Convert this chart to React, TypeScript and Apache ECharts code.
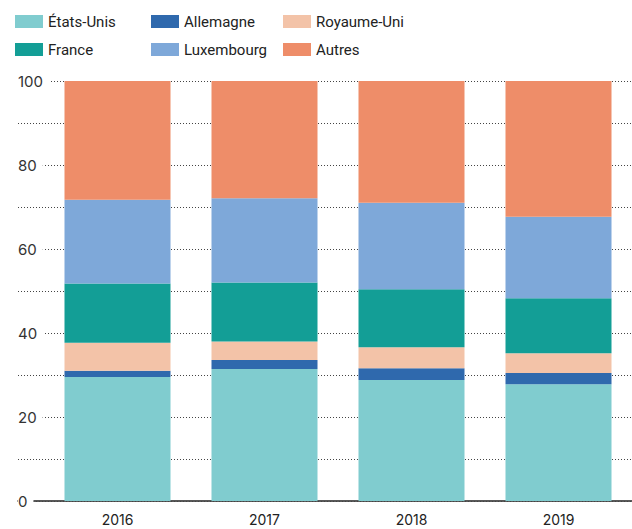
import React, { useEffect, useRef } from "react";
import * as echarts from "echarts";

const years = ["2016", "2017", "2018", "2019"];
const etatsUnis = [29.5, 31.4, 28.8, 27.8];
const allemagne = [1.5, 2.2, 2.8, 2.7];
const royaumeUni = [6.7, 4.4, 5.0, 4.7];
const france = [14.1, 14.0, 13.8, 13.1];
const luxembourg = [19.9, 20.1, 20.6, 19.4];
const autres = [28.3, 27.9, 29.0, 32.3];

const seriesNames = ["États-Unis", "Allemagne", "Royaume-Uni", "France", "Luxembourg", "Autres"];
const seriesData = [etatsUnis, allemagne, royaumeUni, france, luxembourg, autres];
const colors = ["#80cccf", "#2f69ad", "#f3c3a8", "#139e96", "#7ea8d9", "#ee8d69"];

const FONT = "Inter";

export default function App() {
  const ref = useRef<HTMLDivElement>(null);
  useEffect(() => {
    if (!ref.current) return;
    const chart = echarts.init(ref.current, null, { renderer: "svg" });
    const legendCommon = {
      orient: "vertical",
      itemWidth: 28,
      itemHeight: 13,
      itemGap: 13,
      icon: "rect",
      selectedMode: false,
      padding: 0,
      textStyle: { fontFamily: "Roboto", fontSize: 15, lineHeight: 15, color: "#222" },
    };
    chart.setOption({
      animation: false,
      backgroundColor: "#ffffff",
      color: colors,
      legend: [
        { ...legendCommon, left: 15, top: 14, data: ["États-Unis", "France"] },
        { ...legendCommon, left: 151, top: 14, data: ["Allemagne", "Luxembourg"] },
        { ...legendCommon, left: 283, top: 14, data: ["Royaume-Uni", "Autres"] },
      ],
      grid: [
        { left: 18, right: 0, top: 81, bottom: 28 },
        { left: 44, right: 0, top: 81, bottom: 28 },
      ],
      xAxis: [
        {
          type: "category",
          gridIndex: 0,
          data: years,
          z: 0,
          axisLine: { show: true, lineStyle: { color: "#222", width: 1.5 } },
          axisTick: { show: false },
          axisLabel: { show: false },
        },
        {
          type: "category",
          gridIndex: 1,
          data: years,
          axisLine: { show: false },
          axisTick: { show: false },
          axisLabel: { fontFamily: FONT, fontSize: 14, color: "#222", margin: 11 },
        },
      ],
      yAxis: [
        {
          type: "value",
          gridIndex: 0,
          min: 0,
          max: 100,
          interval: 10,
          z: 1,
          axisLine: { show: false },
          axisTick: { show: false },
          splitLine: { show: true, lineStyle: { color: "#444", width: 1, type: [1, 2] } },
          axisLabel: {
            inside: true,
            margin: 0,
            align: "left",
            formatter: (v: number) => (v % 20 === 0 ? `{a|${v}}` : ""),
            rich: {
              a: {
                fontFamily: FONT,
                fontSize: 15,
                color: "#333",
                backgroundColor: "#ffffff",
                padding: [2, 6, 2, 0],
              },
            },
          },
        },
        {
          type: "value",
          gridIndex: 1,
          min: 0,
          max: 100,
          show: false,
          splitLine: { show: false },
        },
      ],
      series: seriesNames.map((name, i) => ({
        name,
        type: "bar",
        stack: "total",
        xAxisIndex: 1,
        yAxisIndex: 1,
        barWidth: 106,
        data: seriesData[i],
        itemStyle: { color: colors[i] },
      })),
    });
    return () => chart.dispose();
  }, []);
  return (
    <div
      ref={ref}
      style={{ position: "fixed", left: 0, top: 0, width: 632, height: 529, background: "#fff" }}
    />
  );
}
